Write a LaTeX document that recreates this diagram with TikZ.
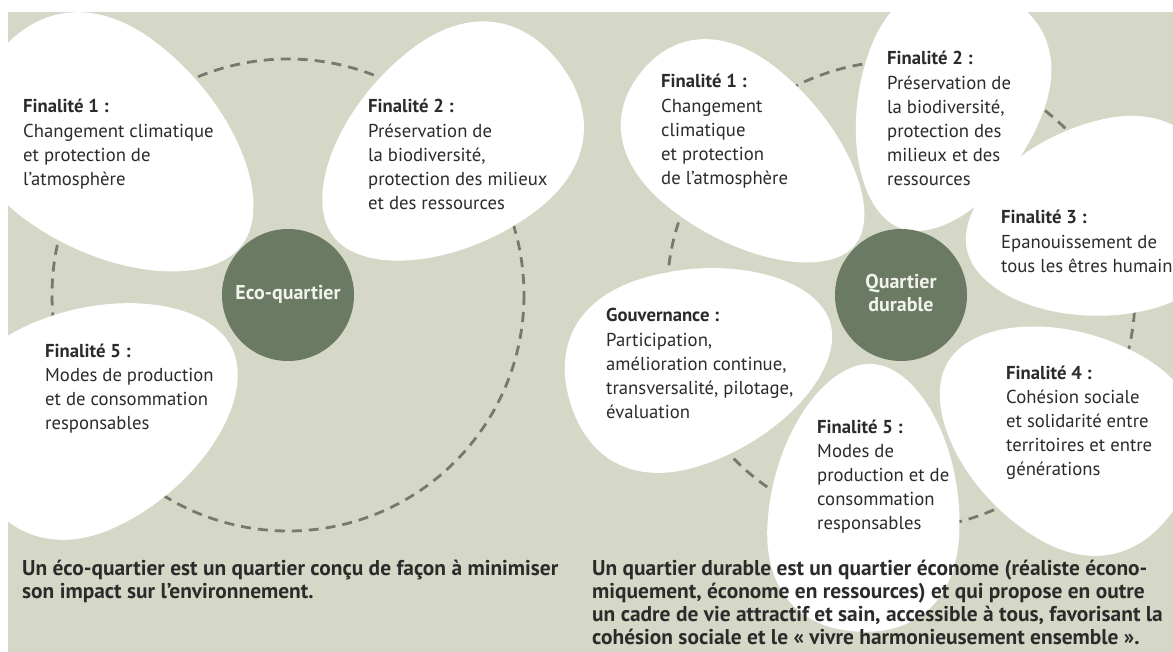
\documentclass[tikz,border=0pt]{standalone}
\usepackage{fontspec}
\setmainfont{PT Sans}
\definecolor{bgc}{HTML}{D5D8C6}
\definecolor{hubc}{HTML}{6B7A62}
\definecolor{dashc}{HTML}{77796D}
\definecolor{txtc}{HTML}{2B2B2B}
\definecolor{hubtxt}{HTML}{F2F3EC}
\newcommand\petal[5]{%
  \fill[petalfill,shift={(#1,#2)},rotate=#3,xscale=#4,yscale=#5]
  (0,0) .. controls (0,0.5) and (0.3,1) .. (0.62,1)
  .. controls (0.86,1) and (1,0.62) .. (1,0)
  .. controls (1,-0.62) and (0.86,-1) .. (0.62,-1)
  .. controls (0.3,-1) and (0,-0.5) .. (0,0) -- cycle;}
\tikzset{
  petalfill/.style={fill=white},
  dashring/.style={draw=dashc, line width=2.8pt, dash pattern=on 10pt off 7pt},
  hub/.style={circle, fill=hubc, minimum size=132pt, inner sep=0pt, text=hubtxt,
    font={\fontsize{20}{23}\selectfont\bfseries}},
  blk/.style={anchor=base west, inner sep=0pt, text=txtc,
    font={\fontsize{18.7}{24.2}\selectfont}},
  note/.style={anchor=base west, inner sep=0pt, text=txtc,
    font={\fontsize{21.4}{23}\selectfont\bfseries}}
}
\begin{document}
\begin{tikzpicture}[x=1pt,y=-1pt]
\useasboundingbox (0,0) rectangle (1173,652);
\fill[bgc] (8,12) rectangle (1173,652);
\coordinate (cl) at (288,295);
\coordinate (cr) at (901,295);
% dashed rings
\draw[dashring] (cl) circle (236);
\draw[dashring] (cr) circle (234);
% left petals
\petal{242}{245}{143}{310}{110}
\petal{333}{236}{37}{285}{102}
\petal{232}{348}{206}{290}{110}
% right petals
\petal{855}{245}{141}{275}{88}
\petal{900}{228}{69}{255}{92}
\petal{967}{250}{12.6}{260}{98}
\petal{948}{362}{-31}{270}{105}
\petal{872}{364}{-93}{268}{96}
\petal{830}{322}{197.5}{272}{98}
% hubs
\node[hub] (eco) at (cl) {\begin{tabular}{@{}c@{}}Eco-quartier\end{tabular}};
\node[hub] (qd) at (cr) {\begin{tabular}{@{}c@{}}Quartier\\durable\end{tabular}};
% left texts
\node[blk] (l1) at (23,113) {\begin{tabular}[t]{@{}l@{}}\textbf{Finalité 1 :}\\Changement climatique\\et protection de\\l’atmosphère\end{tabular}};
\node[blk] (l2) at (368,113) {\begin{tabular}[t]{@{}l@{}}\textbf{Finalité 2 :}\\Préservation de\\la biodiversité,\\protection des milieux\\et des ressources\end{tabular}};
\node[blk] (l5) at (45,357) {\begin{tabular}[t]{@{}l@{}}\textbf{Finalité 5 :}\\Modes de production\\et de consommation\\responsables\end{tabular}};
% right texts
\node[blk] (r1) at (661,88) {\begin{tabular}[t]{@{}l@{}}\textbf{Finalité 1 :}\\Changement\\climatique\\et protection\\de l’atmosphère\end{tabular}};
\node[blk] (r2) at (887,65) {\begin{tabular}[t]{@{}l@{}}\textbf{Finalité 2 :}\\Préservation de\\la biodiversité,\\protection des\\milieux et des\\ressources\end{tabular}};
\node[blk] (r3) at (1001,224) {\begin{tabular}[t]{@{}l@{}}\textbf{Finalité 3 :}\\Epanouissement de\\tous les êtres humains\end{tabular}};
\node[blk] (r4) at (1006,379) {\begin{tabular}[t]{@{}l@{}}\textbf{Finalité 4 :}\\Cohésion sociale\\et solidarité entre\\territoires et entre\\générations\end{tabular}};
\node[blk] (r5) at (817,433) {\begin{tabular}[t]{@{}l@{}}\textbf{Finalité 5 :}\\Modes de\\production et de\\consommation\\responsables\end{tabular}};
\node[blk] (rg) at (606,322) {\begin{tabular}[t]{@{}l@{}}\textbf{Gouvernance :}\\Participation,\\amélioration continue,\\transversalité, pilotage,\\évaluation\end{tabular}};
% bottom notes
\node[note] (bl) at (22,575) {\begin{tabular}[t]{@{}l@{}}Un éco-quartier est un quartier conçu de façon à minimiser\\son impact sur l’environnement.\end{tabular}};
\node[note] (br) at (592,575) {\begin{tabular}[t]{@{}l@{}}Un quartier durable est un quartier économe (réaliste écono-\\miquement, économe en ressources) et qui propose en outre\\un cadre de vie attractif et sain, accessible à tous, favorisant la\\cohésion sociale et le « vivre harmonieusement ensemble ».\end{tabular}};
\end{tikzpicture}
\end{document}
